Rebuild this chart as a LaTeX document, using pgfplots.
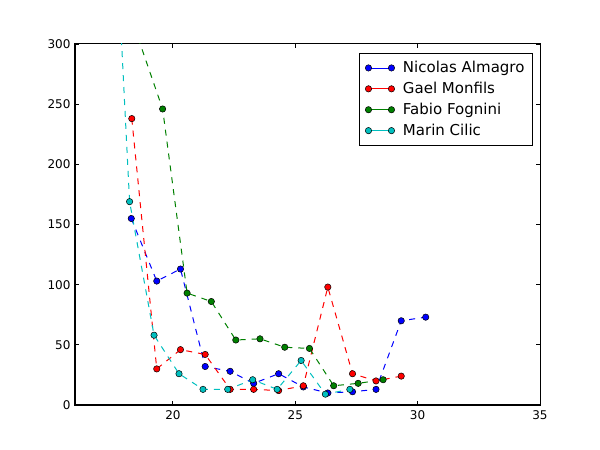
\documentclass[border=0pt]{standalone}
\usepackage{fontspec}
\setmainfont{DejaVu Sans}
\usepackage{pgfplots}
\pgfplotsset{compat=1.18}
\definecolor{mblue}{rgb}{0,0,1}
\definecolor{mred}{rgb}{1,0,0}
\definecolor{mgreen}{rgb}{0,0.5,0}
\definecolor{mcyan}{rgb}{0,0.75,0.75}
\begin{document}
\begin{tikzpicture}[x=1pt,y=1pt]
\begin{axis}[
  at={(75pt,45pt)}, anchor=south west,
  scale only axis, width=465pt, height=361pt,
  xmin=16, xmax=35, ymin=0, ymax=300,
  xtick={20,25,30,35}, ytick={0,50,...,300},
  tick align=inside, major tick length=4pt, tick pos=both,
  tick style={black, line width=0.8pt},
  axis line style={black, line width=1pt},
  ticklabel style={font=\fontsize{12}{14}\selectfont},
  /pgf/number format/assume math mode=true,
  xticklabel style={yshift=-2pt},
  yticklabel style={xshift=-1pt},
  every axis plot/.append style={line width=1pt, dash pattern=on 6pt off 6pt},
  mark size=3.2pt,
  legend image code/.code={\draw[#1, solid, line width=0.8pt] plot coordinates {(0pt,0pt) (23pt,0pt)}; \path (32pt,0pt);},
  legend style={at={(1,1)}, anchor=north east, xshift=-7pt, yshift=-9pt,
    draw=black, line width=1pt, font=\fontsize{15}{18}\selectfont,
    cells={anchor=west}, row sep=4pt, inner xsep=6pt, inner ysep=6pt},
]
\addplot[color=mblue, mark=*, mark options={solid, line width=0.5pt, draw=black, fill=mblue}] coordinates {
(18.3,155) (19.34,103) (20.31,113) (21.32,32) (22.34,28) (23.3,18) (24.32,26) (25.33,15) (26.33,10) (27.34,11) (28.3,13) (29.33,70) (30.33,73)};
\addlegendentry{Nicolas Almagro}
\addplot[color=mred, mark=*, mark options={solid, line width=0.5pt, draw=black, fill=mred}] coordinates {
(18.32,238) (19.34,30) (20.31,46) (21.32,42) (22.34,13) (23.3,13) (24.32,12) (25.33,16) (26.33,98) (27.34,26) (28.3,20) (29.33,24)};
\addlegendentry{Gael Monfils}
\addplot[color=mgreen, mark=*, mark options={solid, line width=0.5pt, draw=black, fill=mgreen}] coordinates {
(18.58,305) (19.58,246) (20.58,93) (21.57,86) (22.57,54) (23.56,55) (24.57,48) (25.58,47) (26.57,16) (27.57,18) (28.59,21)};
\addlegendentry{Fabio Fognini}
\addplot[color=mcyan, mark=*, mark options={solid, line width=0.5pt, draw=black, fill=mcyan}] coordinates {
(17.23,573) (18.23,169) (19.23,58) (20.25,26) (21.23,13) (22.24,13) (23.26,21) (24.26,13) (25.24,37) (26.23,9) (27.23,13)};
\addlegendentry{Marin Cilic}
\end{axis}
\pgfresetboundingbox
\path[use as bounding box] (0,0) rectangle (600,450);
\end{tikzpicture}
\end{document}
